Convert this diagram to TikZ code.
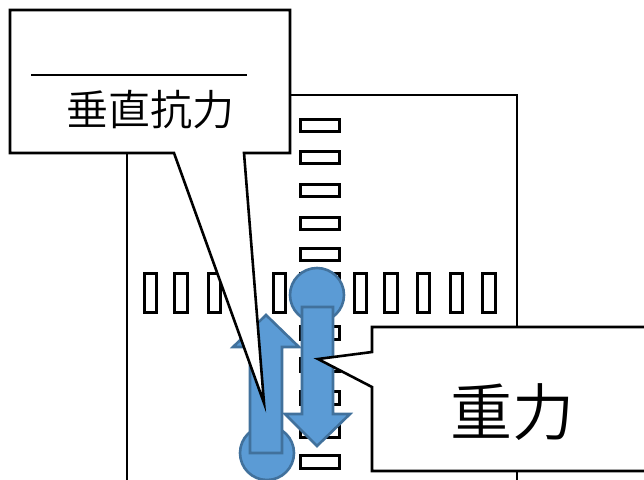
\documentclass[tikz,border=0pt]{standalone}
\usepackage{fontspec}
\newfontfamily\cjk{Noto Sans CJK JP DemiLight}
\tikzset{
  outl/.style={draw=black,line width=2.6pt},
  slot/.style={draw=black,line width=3pt,fill=white},
  ball/.style={draw=arrowline,line width=2.6pt,fill=arrowblue},
  force/.style={draw=arrowline,line width=2.6pt,fill=arrowblue,line join=miter},
  bubble/.style={draw=black,line width=2.6pt,fill=white,line join=miter},
}
\definecolor{arrowblue}{HTML}{5B9BD5}
\definecolor{arrowline}{HTML}{41719C}
\begin{document}
\begin{tikzpicture}[x=1pt,y=-1pt]
\useasboundingbox (0,0) rectangle (644,479);
\clip (0,0) rectangle (644,479);
% outer rectangle
\draw[outl] (127,490) -- (127,95) -- (517,95) -- (517,490);
% horizontal slots
\foreach \ya/\yb in {119/131,151/163,184/196,217/229,248/260,273/286,326/339,358/371,391/404,426/437,455/468}
  \draw[slot] (300,\ya) rectangle (339,\yb);
% vertical slots
\foreach \xa/\xb in {144/156,174/187,208/220,273/285,354/366,384/397,417/429,450/462,482/495}
  \draw[slot] (\xa,273) rectangle (\xb,312);
% balls
\node[ball,circle,minimum size=54pt,inner sep=0pt] (topball) at (317,295) {};
\node[ball,circle,minimum size=54pt,inner sep=0pt] (lowball) at (267,453) {};
% forces
\draw[force] (250,453) -- (250,347) -- (233,347) -- (266,315) -- (299,347) -- (282,347) -- (282,453) -- cycle;
\draw[force] (302,307) -- (333,307) -- (333,414) -- (350,414) -- (317,446) -- (285,414) -- (302,414) -- cycle;
% callouts
\draw[bubble] (10,10) -- (290,10) -- (290,153) -- (244,153) -- (264,403) -- (174,153) -- (10,153) -- cycle;
\draw[outl] (31,75) -- (247,75);
\node[font=\cjk\fontsize{42}{42}\selectfont,inner sep=0pt] (normal) at (150,110) {垂直抗力};
\draw[bubble] (660,327) -- (372,327) -- (372,352) -- (318,359) -- (372,387) -- (372,471) -- (660,471);
\node[font=\cjk\fontsize{62}{62}\selectfont,inner sep=0pt] (gravity) at (512,412) {重力};
\end{tikzpicture}
\end{document}
